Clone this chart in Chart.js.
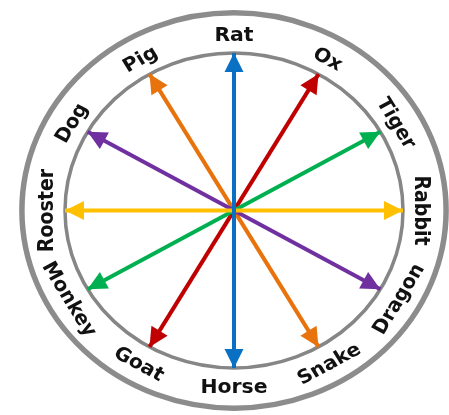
<!DOCTYPE html>
<html>
<head>
<meta charset="utf-8">
<script src="https://cdn.jsdelivr.net/npm/chart.js@4/dist/chart.umd.min.js"></script>
<style>
  html, body { margin: 0; padding: 0; background: #ffffff; }
  #wrap { width: 449px; height: 415px; }
</style>
</head>
<body>
<div id="wrap"><canvas id="c" width="449" height="415"></canvas></div>
<script>
// ---- data ----
const signs = ['Rat', 'Ox', 'Tiger', 'Rabbit', 'Dragon', 'Snake', 'Horse', 'Goat', 'Monkey', 'Rooster', 'Dog', 'Pig'];
const signAngles = [0, 30, 60, 90, 120, 150, 180, 210, 240, 270, 300, 330]; // degrees clockwise from top
const pairFrom = ['Rat', 'Rabbit', 'Tiger', 'Ox', 'Dragon', 'Snake'];
const pairTo   = ['Horse', 'Rooster', 'Monkey', 'Goat', 'Dog', 'Pig'];
const pairColors = ['#0a70c4', '#ffc000', '#00b050', '#c00000', '#7030a0', '#e8720c'];

// ---- helpers ----
function pos(name, r) {
  const a = signAngles[signs.indexOf(name)] * Math.PI / 180;
  return { x: r * Math.sin(a), y: r * Math.cos(a) };
}

const datasets = pairFrom.map((f, i) => ({
  label: f + ' - ' + pairTo[i],
  data: [pos(f, 1), pos(pairTo[i], 1)],
  showLine: true,
  borderColor: pairColors[i],
  backgroundColor: pairColors[i],
  borderWidth: 4,
  pointRadius: 0,
  pointHoverRadius: 0
}));

const wheelPlugin = {
  id: 'wheel',
  beforeDatasetsDraw(chart) {
    const { ctx, scales: { x, y } } = chart;
    const cx = x.getPixelForValue(0), cy = y.getPixelForValue(0);
    const rx = x.getPixelForValue(1) - cx, ry = cy - y.getPixelForValue(1);
    ctx.save();
    // outer ring
    ctx.strokeStyle = '#8c8c8c';
    ctx.lineWidth = 5.5;
    ctx.beginPath();
    ctx.ellipse(cx, cy, rx * 1.255, ry * 1.255, 0, 0, Math.PI * 2);
    ctx.stroke();
    // inner ring
    ctx.strokeStyle = '#868686';
    ctx.lineWidth = 3.5;
    ctx.beginPath();
    ctx.ellipse(cx, cy, rx, ry, 0, 0, Math.PI * 2);
    ctx.stroke();

    // labels
    const sx = rx / ry;
    const fontSize = 19;
    ctx.fillStyle = '#111111';
    ctx.font = 'bold ' + fontSize + 'px "DejaVu Sans"';
    ctx.textAlign = 'center';
    ctx.textBaseline = 'alphabetic';
    signs.forEach((s, i) => {
      const p = pos(s, 1.117);
      const px = x.getPixelForValue(p.x);
      const py = y.getPixelForValue(p.y);
      let rot = signAngles[i];
      if (rot > 90 && rot < 270) rot -= 180;
      if (rot >= 270) rot -= 360;
      ctx.save();
      ctx.translate(px, py);
      ctx.scale(sx, 1);
      ctx.rotate(rot * Math.PI / 180);
      ctx.fillText(s, 0, fontSize * 0.729 / 2);
      ctx.restore();
    });
    ctx.restore();
  },
  afterDatasetsDraw(chart) {
    const { ctx } = chart;
    const headLen = 19, headHalf = 9.5;
    chart.data.datasets.forEach((ds, i) => {
      const meta = chart.getDatasetMeta(i);
      const pts = meta.data;
      const ends = [[pts[0], pts[1]], [pts[1], pts[0]]];
      ctx.save();
      ctx.fillStyle = ds.borderColor;
      ends.forEach(([tip, other]) => {
        const dx = tip.x - other.x, dy = tip.y - other.y;
        const L = Math.hypot(dx, dy);
        const ux = dx / L, uy = dy / L;
        const bx = tip.x - ux * headLen, by = tip.y - uy * headLen;
        ctx.beginPath();
        ctx.moveTo(tip.x, tip.y);
        ctx.lineTo(bx - uy * headHalf, by + ux * headHalf);
        ctx.lineTo(bx + uy * headHalf, by - ux * headHalf);
        ctx.closePath();
        ctx.fill();
      });
      ctx.restore();
    });
  }
};

new Chart(document.getElementById('c'), {
  type: 'scatter',
  data: { datasets },
  options: {
    responsive: false,
    animation: false,
    events: [],
    layout: { padding: 0 },
    plugins: { legend: { display: false }, tooltip: { enabled: false }, title: { display: false } },
    scales: {
      x: { type: 'linear', display: false, min: -234 / 169, max: (449 - 234) / 169 },
      y: { type: 'linear', display: false, min: -(415 - 210.5) / 157.5, max: 210.5 / 157.5 }
    }
  },
  plugins: [wheelPlugin]
});
</script>
</body>
</html>
